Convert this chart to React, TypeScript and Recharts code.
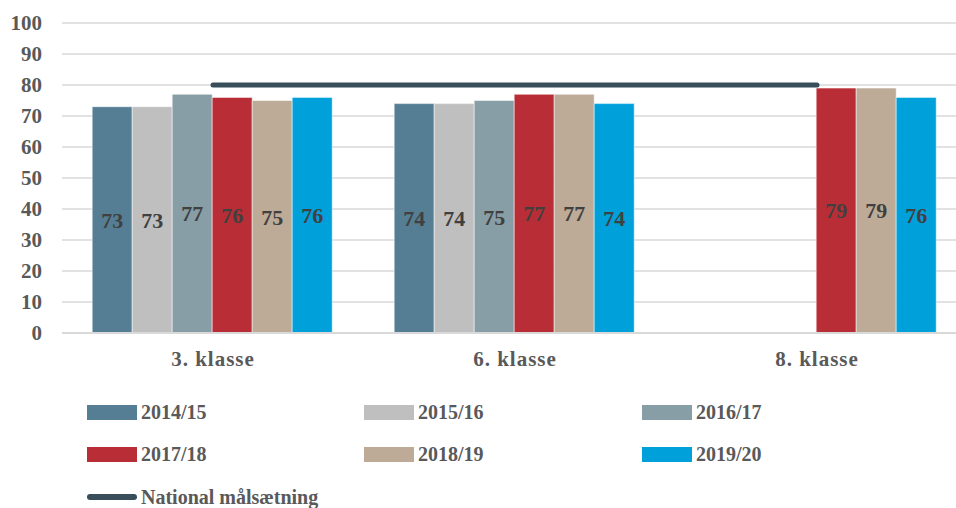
import React from 'react';
import { ComposedChart, Bar, Line, XAxis, YAxis, CartesianGrid, LabelList } from 'recharts';

const categories = ['3. klasse', '6. klasse', '8. klasse'];
const seriesNames = ['2014/15', '2015/16', '2016/17', '2017/18', '2018/19', '2019/20'];
const s2014: (number | null)[] = [73, 74, null];
const s2015: (number | null)[] = [73, 74, null];
const s2016: (number | null)[] = [77, 75, null];
const s2017: (number | null)[] = [76, 77, 79];
const s2018: (number | null)[] = [75, 77, 79];
const s2019: (number | null)[] = [76, 74, 76];
const target = [80, 80, 80];
const yTicks = [0, 10, 20, 30, 40, 50, 60, 70, 80, 90, 100];

const colors = ['#557e95', '#bfbfbf', '#879ea6', '#b92e36', '#bdab98', '#00a0db'];
const lineColor = '#384e5a';
const font = '"Liberation Serif", serif';

const allSeries = [s2014, s2015, s2016, s2017, s2018, s2019];
const data = categories.map((c, i) => {
  const row: Record<string, string | number | null> = { name: c, target: target[i] };
  seriesNames.forEach((s, j) => {
    row[s] = allSeries[j][i];
  });
  return row;
});

const legendCols = [87, 364, 642];
const legendRows = [412, 454];

const App: React.FC = () => {
  return (
    <div style={{ position: 'fixed', left: 0, top: 0, width: 956, height: 508, overflow: 'hidden', background: '#fff' }}>
      <ComposedChart
        width={1000}
        height={380}
        data={data}
        margin={{ top: 23, right: 32, bottom: 7, left: 0 }}
        barCategoryGap="10%"
        barGap={0}
      >
        <CartesianGrid vertical={false} stroke="#d9d9d9" strokeWidth={1.5} />
        <XAxis
          dataKey="name"
          axisLine={{ stroke: '#d9d9d9', strokeWidth: 2 }}
          tickLine={false}
          height={40}
          tickMargin={12}
          tick={{ fontFamily: font, fontSize: 21, fontWeight: 700, fill: '#595959', letterSpacing: 1 }}
        />
        <YAxis
          domain={[0, 100]}
          ticks={yTicks}
          width={62}
          axisLine={false}
          tickLine={false}
          tickSize={0}
          tickMargin={20}
          tick={{ fontFamily: font, fontSize: 21, fontWeight: 700, fill: '#595959' }}
        />
        {seriesNames.map((s, j) => (
          <Bar key={s} dataKey={s} fill={colors[j]} stroke="#fff" strokeWidth={0.5} isAnimationActive={false}>
            <LabelList
              dataKey={s}
              position="center"
              style={{ fontFamily: font, fontSize: 22, fontWeight: 700, fill: '#404040' }}
            />
          </Bar>
        ))}
        <Line
          dataKey="target"
          stroke={lineColor}
          strokeWidth={5}
          strokeLinecap="round"
          dot={false}
          isAnimationActive={false}
        />
      </ComposedChart>
      {seriesNames.map((s, j) => {
        const x = legendCols[j % 3];
        const y = legendRows[Math.floor(j / 3)];
        return (
          <div key={s} style={{ position: 'absolute', left: x, top: y - 12, height: 24, display: 'flex', alignItems: 'center' }}>
            <div style={{ width: 50, height: 15, background: colors[j] }} />
            <span style={{ marginLeft: 4, fontFamily: font, fontSize: 20, fontWeight: 700, color: '#595959' }}>{s}</span>
          </div>
        );
      })}
      <div style={{ position: 'absolute', left: 87, top: 497 - 12, height: 24, display: 'flex', alignItems: 'center' }}>
        <div style={{ width: 50, height: 6, borderRadius: 3, background: lineColor }} />
        <span style={{ marginLeft: 4, fontFamily: font, fontSize: 20, fontWeight: 700, color: '#595959' }}>National målsætning</span>
      </div>
    </div>
  );
};

export default App;
